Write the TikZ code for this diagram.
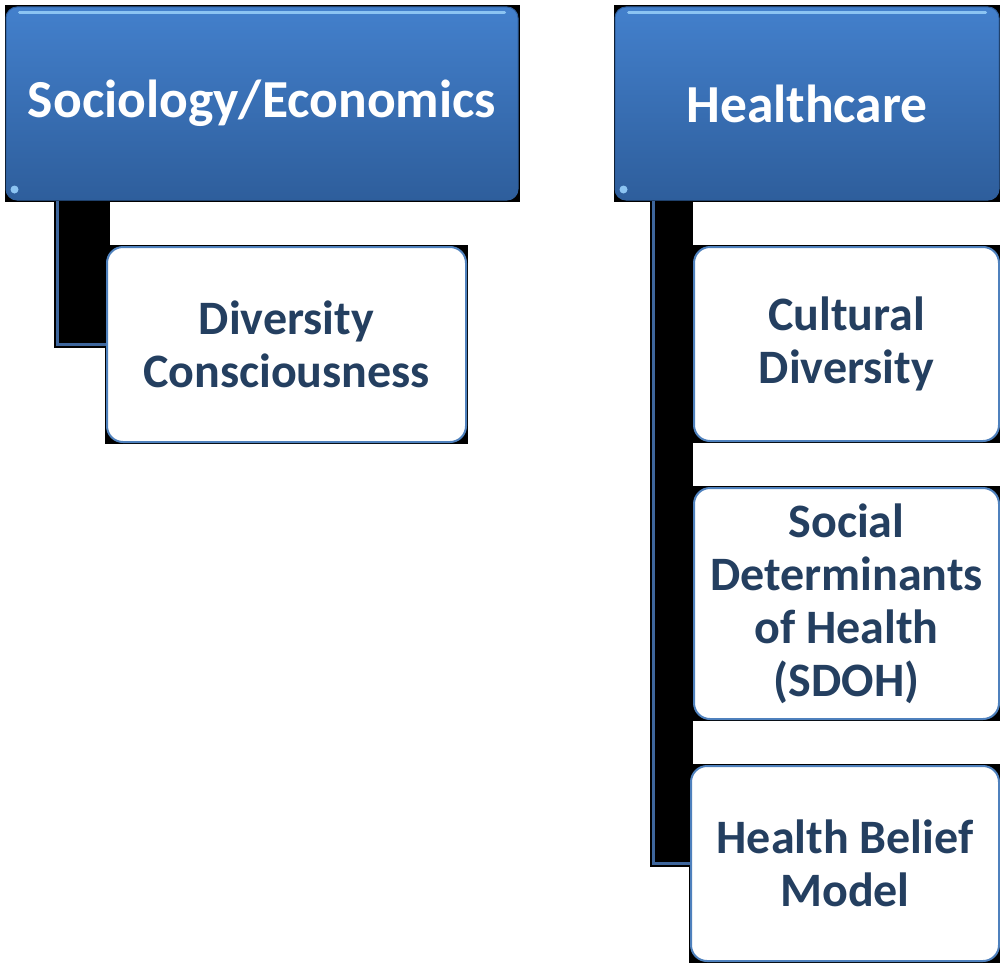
\documentclass[tikz,border=0pt]{standalone}
\usepackage{fontspec}
\setmainfont{Carlito}
\usetikzlibrary{backgrounds,calc}
\definecolor{hdrtop}{HTML}{4380CC}
\definecolor{hdrbot}{HTML}{2E5E9C}
\definecolor{gloss}{HTML}{8CC4F2}
\definecolor{txtdark}{HTML}{243F60}
\definecolor{edgeblue}{HTML}{4F81BD}
\definecolor{connblue}{HTML}{3E669C}
\tikzset{
  header/.style={rounded corners=11pt, top color=hdrtop, bottom color=hdrbot,
    draw=hdrbot, line width=1pt, text=white, align=center, inner sep=0pt,
    font=\fontsize{53.5}{60}\selectfont\bfseries},
  childbox/.style={rounded corners=16pt, fill=white, draw=edgeblue, line width=2pt,
    text=txtdark, align=center, inner sep=0pt,
    font=\fontsize{48}{53}\selectfont\bfseries},
  conn/.style={draw=connblue, line width=3.5pt},
  shadowbg/.style={fill=black}
}
\begin{document}
\begin{tikzpicture}[x=1pt,y=-1pt]
\useasboundingbox (0,0) rectangle (1000,966);
% headers
\node[header, minimum width=512pt, minimum height=193pt] (h1) at (262,103.5) {Sociology/Economics};
\node[header, minimum width=384pt, minimum height=193pt] (h2) at (807,103.5) {Healthcare};
% children
\node[childbox, minimum width=359pt, minimum height=195pt] (c1) at (286.5,344.5) {Diversity\\Consciousness};
\node[childbox, minimum width=305pt, minimum height=194pt] (c2) at (846.5,344) {Cultural\\Diversity};
\node[childbox, minimum width=305pt, minimum height=231pt] (c3) at (846.5,603.5) {Social\\Determinants\\of Health\\(SDOH)};
\node[childbox, minimum width=308pt, minimum height=195pt] (c4) at (845,863.5) {Health Belief\\Model};
% gloss on headers
\foreach \h in {h1,h2}{
  \draw[gloss, line width=3pt, line cap=round] ($(\h.north west)+(14,6)$) -- ($(\h.north east)+(-14,6)$);
  \fill[gloss] ($(\h.south west)+(9,-11)$) circle (4pt);
}
\begin{scope}[on background layer]
  \fill[white] (0,0) rectangle (1000,966);
  \foreach \n in {h1,h2,c1,c2,c3,c4}{
    \fill[shadowbg] ($(\n.south west)+(-1,1)$) rectangle ($(\n.north east)+(1,-1)$);
  }
  % connector backgrounds
  \fill[shadowbg] (54,200) rectangle (110,348);
  \fill[shadowbg] (650,200) rectangle (693,867);
  % connectors
  \draw[conn] ($(h1.south west)+(52,0)$) |- (c1.west);
  \draw[conn] ($(h2.south west)+(39,0)$) |- (c4.west);
\end{scope}
\end{tikzpicture}
\end{document}
